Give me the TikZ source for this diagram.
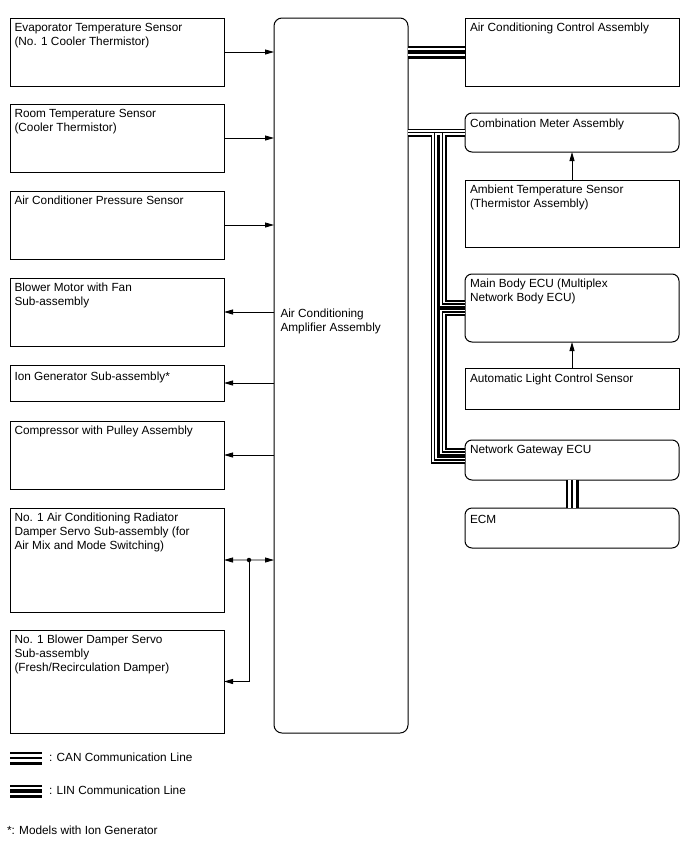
\documentclass[tikz,border=0pt]{standalone}
\usepackage{fontspec}
\setmainfont{Liberation Sans}
\usetikzlibrary{arrows.meta,calc}
\begin{document}
\begin{tikzpicture}[x=1bp,y=-1bp,
  box/.style={draw=black, line width=1bp, inner sep=0pt, outer sep=0pt, anchor=north west, minimum width=214bp},
  rbox/.style={box, rounded corners=7bp},
  txt/.style={anchor=north west, align=left, inner sep=0pt, outer sep=0pt, font=\fontsize{11.8bp}{14bp}\selectfont},
  sig/.style={draw=black, line width=0.8bp, -{Triangle[length=9bp,width=5bp]}},
  netbus/.style={draw=black, line width=8bp, postaction={draw=white, line width=4.4bp}, postaction={draw=black, line width=1.6bp}},
  canbus/.style={draw=black, line width=13bp, postaction={draw=white, line width=7.5bp}, postaction={draw=black, line width=1.8bp}},
  linbus/.style={draw=black, line width=13bp, postaction={draw=white, line width=8.5bp}, postaction={draw=black, line width=3.6bp}},
]
\useasboundingbox (0,0) rectangle (688,852);

% amplifier
\node[rbox, minimum width=134bp, minimum height=715bp, rounded corners=8bp] (amp) at (274,18) {};
\node[txt] (tamp) at ([shift={(6.5,291)}]amp.north west) {Air Conditioning\\Amplifier Assembly};

% left boxes
\node[box, minimum height=68bp] (evap) at (10,18) {};
\node[txt] (t1) at ([shift={(4.5,5)}]evap.north west) {Evaporator Temperature Sensor\\(No. 1 Cooler Thermistor)};
\node[box, minimum height=68bp] (room) at (10,104) {};
\node[txt] (t2) at ([shift={(4.5,5)}]room.north west) {Room Temperature Sensor\\(Cooler Thermistor)};
\node[box, minimum height=68bp] (pres) at (10,191) {};
\node[txt] (t3) at ([shift={(4.5,5)}]pres.north west) {Air Conditioner Pressure Sensor};
\node[box, minimum height=68bp] (blow) at (10,278) {};
\node[txt] (t4) at ([shift={(4.5,5)}]blow.north west) {Blower Motor with Fan\\Sub-assembly};
\node[box, minimum height=36bp] (ion) at (10,365) {};
\node[txt] (t5) at ([shift={(4.5,7)}]ion.north west) {Ion Generator Sub-assembly*};
\node[box, minimum height=68bp] (comp) at (10,421) {};
\node[txt] (t6) at ([shift={(4.5,5)}]comp.north west) {Compressor with Pulley Assembly};
\node[box, minimum height=104bp] (rd) at (10,508) {};
\node[txt] (t7) at ([shift={(4.5,5)}]rd.north west) {No. 1 Air Conditioning Radiator\\Damper Servo Sub-assembly (for\\Air Mix and Mode Switching)};
\node[box, minimum height=103bp] (bd) at (10,630) {};
\node[txt] (t8) at ([shift={(4.5,5)}]bd.north west) {No. 1 Blower Damper Servo\\Sub-assembly\\(Fresh/Recirculation Damper)};

% right boxes
\node[box, minimum height=68bp] (acc) at (465,18) {};
\node[txt] (r1) at ([shift={(5,5)}]acc.north west) {Air Conditioning Control Assembly};
\node[rbox, minimum height=39bp] (cm) at (465,113) {};
\node[txt] (r2) at ([shift={(5,6)}]cm.north west) {Combination Meter Assembly};
\node[box, minimum height=67bp] (amb) at (465,180) {};
\node[txt] (r3) at ([shift={(5,5)}]amb.north west) {Ambient Temperature Sensor\\(Thermistor Assembly)};
\node[rbox, minimum height=68bp] (mb) at (465,274) {};
\node[txt] (r4) at ([shift={(5,5)}]mb.north west) {Main Body ECU (Multiplex\\Network Body ECU)};
\node[box, minimum height=41bp] (als) at (465,368) {};
\node[txt] (r5) at ([shift={(5,6)}]als.north west) {Automatic Light Control Sensor};
\node[rbox, minimum height=40bp] (gw) at (465,440) {};
\node[txt] (r6) at ([shift={(5,5)}]gw.north west) {Network Gateway ECU};
\node[rbox, minimum height=40bp] (ecm) at (465,508) {};
\node[txt] (r7) at ([shift={(5,7)}]ecm.north west) {ECM};

% signal arrows
\draw[sig] (evap.east) -- (evap.east -| amp.west);
\draw[sig] (room.east) -- (room.east -| amp.west);
\draw[sig] (pres.east) -- (pres.east -| amp.west);
\draw[sig] (blow.east -| amp.west) -- (blow.east);
\draw[sig] (ion.east -| amp.west) -- (ion.east);
\draw[sig] (comp.east -| amp.west) -- (comp.east);
\coordinate (jn) at ($(rd.east)!0.5!(rd.east -| amp.west)$);
\node[circle, fill=black, inner sep=0pt, minimum size=4.5bp] (dot) at (jn) {};
\draw[sig] (jn) -- (rd.east);
\draw[sig] (jn) -- (rd.east -| amp.west);
\draw[sig] (jn) -- (jn |- bd.east) -- (bd.east);
\draw[sig] (amb.north) -- (cm.south);
\draw[sig] (als.north) -- (mb.south);

% buses
\draw[linbus] (acc.west -| amp.east) -- (acc.west);
\draw[canbus] (gw.south) -- (ecm.north);
\coordinate (vo) at (434.5,0);
\coordinate (vi) at (442.5,0);
\coordinate (mbu) at ([yshift=4bp]mb.west);
\coordinate (mbl) at ([yshift=-4bp]mb.west);
\coordinate (gwu) at ([yshift=8bp]gw.west);
\draw[netbus] (cm.west -| amp.east) -- (cm.west)
  (vo |- cm.west) -- (vo |- gw.west) -- (gw.west)
  (vi |- cm.west) -- (vi |- mbu) -- (mbu)
  (mbl) -- (vi |- mbl) -- (vi |- gwu) -- (gwu);

% legend
\coordinate (ca) at (10,758);
\coordinate (cb) at (42,758);
\draw[canbus] (ca) -- (cb);
\node[txt, anchor=west] (lc) at (49,757) {: CAN Communication Line};
\coordinate (la) at (10,791);
\coordinate (lb) at (42,791);
\draw[linbus] (la) -- (lb);
\node[txt, anchor=west] (ll) at (49,790) {: LIN Communication Line};
\node[txt, anchor=west] (fn) at (7,830) {*: Models with Ion Generator};
\end{tikzpicture}
\end{document}
